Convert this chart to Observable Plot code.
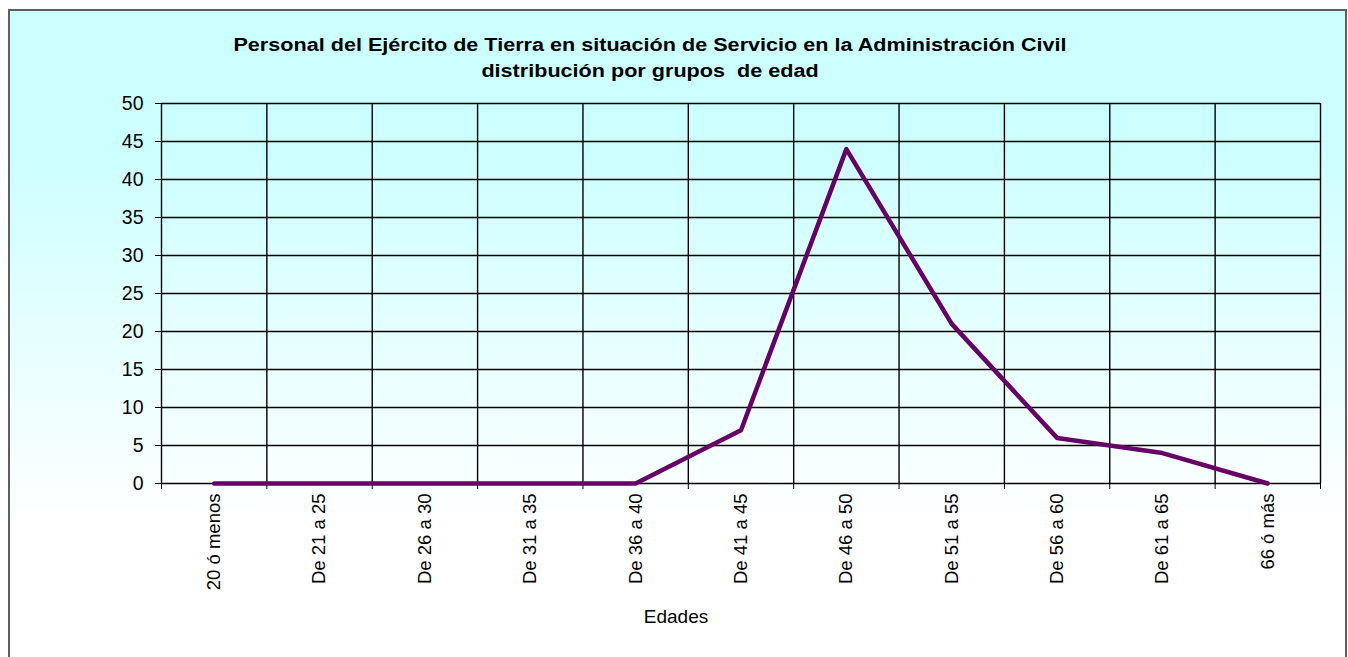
<!DOCTYPE html>
<html><head><meta charset="utf-8">
<script src="https://cdn.jsdelivr.net/npm/d3@7"></script>
<script src="https://cdn.jsdelivr.net/npm/@observablehq/plot@0.6"></script>
<style>
html,body{margin:0;padding:0;width:1348px;height:657px;overflow:hidden;background:#fff;font-family:"Liberation Sans",Arial,sans-serif;}
#frame{position:absolute;left:8px;top:9px;width:1339px;height:700px;box-sizing:border-box;border:2px solid #5f5f5f;background:linear-gradient(to bottom,#ccffff 0px,#ccffff 140px,#ffffff 515px);}
#title{position:absolute;left:0;top:32px;width:1300px;text-align:center;font-weight:bold;font-size:18px;line-height:26px;color:#000;transform:scaleX(1.2);}
#chart{position:absolute;left:0;top:90px;}
#xlabel{position:absolute;left:0;top:606px;width:1352px;text-align:center;font-size:19px;color:#000;}
</style>
</head><body>
<div id="frame"></div>
<div id="title">Personal del Ejército de Tierra en situación de Servicio en la Administración Civil<br>distribución por grupos&nbsp; de edad</div>
<div id="chart"></div>
<div id="xlabel"></div>
<script>
const categories = ["20 ó menos","De 21 a 25","De 26 a 30","De 31 a 35","De 36 a 40","De 41 a 45","De 46 a 50","De 51 a 55","De 56 a 60","De 61 a 65","66 ó más"];
const values = [0,0,0,0,0,7,44,21,6,4,0];
const yTicks = [0,5,10,15,20,25,30,35,40,45,50];
const xTitle = "Edades";

const n = categories.length;
const centers = categories.map((c,i)=>i+0.5);
const bounds = d3.range(n+1);
const data = categories.map((c,i)=>({pos:i+0.5, value:values[i], cat:c}));

const chart = Plot.plot({
  width:1348, height:567,
  marginLeft:161, marginRight:28, marginTop:13, marginBottom:174,
  style:{background:"transparent", fontFamily:"'Liberation Sans', Arial, sans-serif", color:"#000"},
  x:{domain:[0,n]},
  y:{domain:[0,50]},
  marks:[
    Plot.ruleY(yTicks,{stroke:"#000",strokeWidth:1.4}),
    Plot.ruleX(bounds,{stroke:"#000",strokeWidth:1.4}),
    Plot.axisY({ticks:yTicks, tickSize:6, tickPadding:12, fontSize:19.5, label:null, stroke:"#000", strokeOpacity:1}),
    Plot.axisX({ticks:bounds, tickSize:6, tickFormat:()=>"", label:null, stroke:"#000", strokeOpacity:1}),
    Plot.axisX({ticks:centers, tickSize:0, tickPadding:10, tickRotate:-90, tickFormat:(d)=>categories[Math.floor(d)], fontSize:18.5, label:null}),
    Plot.line(data,{x:"pos", y:"value", stroke:"#660066", strokeWidth:4.5})
  ]
});
document.getElementById("chart").appendChild(chart);
document.getElementById("xlabel").textContent = xTitle;
</script>
</body></html>
